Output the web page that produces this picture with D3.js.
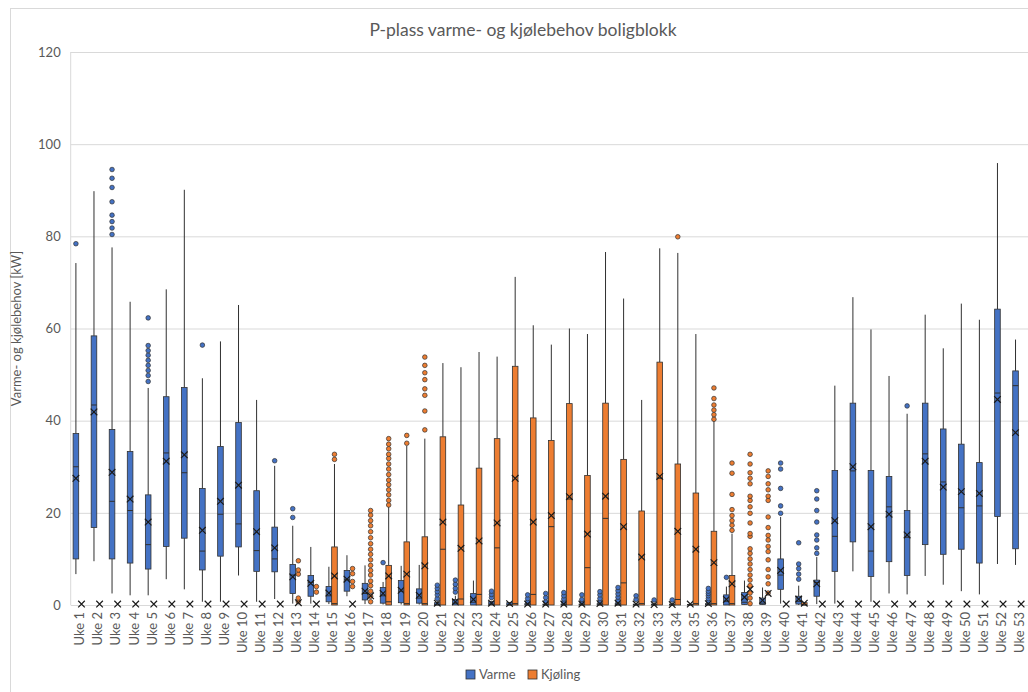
<!DOCTYPE html>
<html>
<head>
<meta charset="utf-8">
<script src="https://cdn.jsdelivr.net/npm/d3@7"></script>
<style>
  html, body { margin: 0; padding: 0; background: #fff; }
  svg { display: block; font-family: Lato, "Open Sans", sans-serif; }
</style>
</head>
<body>
<svg id="chart" width="1028" height="692"></svg>
<script>
// Weekly distribution of heating (Varme) and cooling (Kjøling) demand, kW
const categories = ["Uke 1","Uke 2","Uke 3","Uke 4","Uke 5","Uke 6","Uke 7","Uke 8","Uke 9","Uke 10",
  "Uke 11","Uke 12","Uke 13","Uke 14","Uke 15","Uke 16","Uke 17","Uke 18","Uke 19","Uke 20",
  "Uke 21","Uke 22","Uke 23","Uke 24","Uke 25","Uke 26","Uke 27","Uke 28","Uke 29","Uke 30",
  "Uke 31","Uke 32","Uke 33","Uke 34","Uke 35","Uke 36","Uke 37","Uke 38","Uke 39","Uke 40",
  "Uke 41","Uke 42","Uke 43","Uke 44","Uke 45","Uke 46","Uke 47","Uke 48","Uke 49","Uke 50",
  "Uke 51","Uke 52","Uke 53"];
const seriesNames = ["Varme", "Kjøling"];
const yTicks = [0, 20, 40, 60, 80, 100, 120];

// Varme
const varmeMin = [6.7,9.5,2.5,2.1,2.1,5.6,3.4,0.7,0.7,6.4, 0.7,1.3,0.3,0.3,0.2,1.9,0.2,0.1,0.1,0.1,
  0,0,0,0,0,0,0,0,0,0, 0,0,0,0,0,0,0,0,0,0.3, 0,0.2,0.3,7.3,0.7,2.5,2.3,6.3,4.4,3.0, 2.3,8.9,8.7];
const varmeQ1 = [10.0,16.8,10.0,9.1,7.8,12.7,14.5,7.6,10.6,12.6, 7.3,7.2,2.5,1.9,0.7,3.0,1.1,0.4,0.5,0.4,
  0,0,0,0,0,0,0,0,0,0, 0,0,0,0,0,0,0,0.1,0.1,3.4, 0.2,1.9,7.3,13.7,6.2,9.4,6.4,13.1,11.0,12.1, 9.1,19.2,12.2];
const varmeMedian = [30.0,43.4,22.5,20.5,13.1,33.0,28.7,11.7,19.7,17.6, 11.8,10.0,6.5,4.9,2.0,5.5,2.5,2.0,3.0,1.5,
  0,0.4,0.6,0.2,0,0,0,0,0,0, 0,0,0,0,0,0,0.8,0.6,0.4,6.5, 0.8,4.9,14.9,29.1,11.7,21.3,14.7,32.8,26.7,21.1, 21.5,46.0,47.6];
const varmeQ3 = [37.2,58.4,38.1,33.3,23.9,45.2,47.2,25.3,34.4,39.6, 24.8,16.9,8.8,6.4,4.0,7.5,4.7,3.8,5.3,3.5,
  0.5,1.2,2.5,0.8,0.5,0.3,0.2,0.2,0.2,0.3, 0.3,0.2,0.2,0.2,0.1,0.3,2.2,2.7,1.5,10.0, 1.9,5.4,29.2,43.8,29.2,27.9,20.5,43.8,38.2,34.9, 30.9,64.2,50.8];
const varmeMax = [74.2,89.8,77.6,65.8,47.1,68.5,90.1,49.2,57.2,65.1, 44.5,30.2,17.2,12.6,8.3,10.8,8.6,5.0,8.5,8.7,
  1.0,2.0,5.3,0.8,0.6,0.3,0.3,0.3,0.3,0.4, 0.3,0.5,0.5,0.5,0.2,0.4,4.0,5.3,3.8,19.1, 4.2,10.4,47.6,66.8,59.8,49.7,41.5,63.0,55.7,65.4, 61.9,95.9,57.6];
const varmeMean = [27.5,41.9,28.8,23.0,18.0,31.2,32.6,16.2,22.5,26.0, 15.9,12.4,6.1,4.7,2.6,5.6,3.0,2.5,3.2,2.1,
  0.4,0.7,1.2,0.4,0.3,0.2,0.2,0.2,0.2,0.3, 0.4,0.2,0.1,0.1,0.2,0.3,1.2,1.7,1.0,7.5, 1.3,4.6,18.3,30.0,17.0,19.7,15.2,31.2,25.6,24.6, 24.2,44.6,37.4];
const varmeOutliers = [
  [78.4], [], [80.4,81.8,83.2,84.6,87.5,90.6,92.6,94.5], [], [48.5,49.8,50.9,52.0,53.1,54.2,55.2,56.3,62.3],
  [], [], [56.4], [], [],
  [], [31.3], [19.0,20.9], [], [],
  [], [], [9.2], [], [],
  [1.4,2.2,2.9,3.6,4.3], [2.8,3.6,4.5,5.4], [], [1.6,2.3,3.0], [],
  [0.7,1.4,2.2], [0.7,1.6,2.5], [0.6,1.3,2.0,2.7], [0.6,1.2,2.2], [0.7,1.4,2.2,2.9],
  [0.6,1.0,1.7,2.4,3.1,3.8], [1.2,2.0], [1.1], [1.1], [],
  [0.8,1.4,2.0,2.5,3.0,3.6], [6.0], [], [], [19.9,21.5,25.3,29.5,30.8],
  [5.6,6.7,7.9,8.9,13.5], [11.2,12.4,14.1,15.2,18.0,20.5,23.0,24.8], [], [], [],
  [], [43.2], [], [], [],
  [], [], []
];

// Kjøling
const kjolingMin = [0,0,0,0,0,0,0,0,0,0, 0,0,0,0,0,0,0,0,0,0, 0,0,0,0,0,0,0,0,0,0,
  0,0,0,0,0,0,0,0,0,0, 0,0,0,0,0,0,0,0,0,0, 0,0,0];
const kjolingQ1 = [0,0,0,0,0,0,0,0,0,0, 0,0,0,0,0,0,0,0,0,0, 0,0,0,0,0,0,0,0,0,0,
  0,0,0,0,0,0,0,0,0,0, 0,0,0,0,0,0,0,0,0,0, 0,0,0];
const kjolingMedian = [0,0,0,0,0,0,0,0,0,0, 0,0,0,0,0.3,0,0,0.7,0.3,0.3,
  12.1,1.3,2.3,12.4,0.3,2.3,17.0,23.0,8.1,18.8, 4.8,0.3,27.5,1.2,0.3,0.3,0.3,0,0,0,
  0,0,0,0,0,0,0,0,0,0, 0,0,0];
const kjolingQ3 = [0,0,0,0,0,0,0,0,0,0, 0,0,0,0,12.6,0,0,8.6,13.7,14.8,
  36.5,21.7,29.7,36.1,51.8,40.6,35.7,43.7,28.1,43.8, 31.6,20.4,52.7,30.6,24.3,16.0,6.4,0,0,0,
  0.5,0,0,0,0,0,0,0,0,0, 0,0,0];
const kjolingMax = [0,0,0,0,0,0,0,0,0,0, 0,0,0,0,30.6,0,0,21.3,34.5,36.1,
  52.5,51.6,54.9,53.9,71.2,60.7,56.5,60.0,58.8,76.6, 66.5,44.5,77.4,76.4,58.8,40.0,15.5,0,0,0,
  0.5,0,0,0,0,0,0,0,0,0, 0,0,0];
const kjolingMean = [0.2,0.2,0.2,0.2,0.2,0.2,0.2,0.2,0.2,0.2, 0.2,0.2,0.5,0.2,6.3,0.2,2.0,6.3,6.7,8.5,
  18.0,12.3,13.9,17.8,27.5,18.0,19.4,23.5,15.4,23.6, 17.0,10.4,27.9,16.0,12.1,9.2,4.6,3.4,2.5,0.2,
  0.4,0.2,0.2,0.2,0.2,0.2,0.2,0.2,0.2,0.2, 0.2,0.2,0.2];
const kjolingOutliers = [
  [], [], [], [], [], [], [], [], [], [],
  [], [], [0.7,1.5,6.7,7.6,9.6], [2.8,4.0], [31.6,32.7],
  [4.0,5.1,6.8,7.9],
  [0.7,1.9,3.0,4.2,5.2,6.5,7.5,8.6,9.8,11.0,12.1,13.3,14.6,15.9,17.2,18.3,19.5,20.5],
  [21.7,22.7,23.9,25.0,26.1,27.1,28.3,29.5,30.6,31.8,32.7,33.9,34.9,36.1],
  [35.1,36.8],
  [38.0,42.1,45.5,46.9,48.9,50.4,52.0,53.8],
  [], [], [], [], [], [], [], [], [], [],
  [], [], [], [79.9], [],
  [40.3,41.3,42.3,43.4,44.8,47.1],
  [16.2,17.3,18.3,19.4,20.7,24.0,28.6,30.8],
  [0.3,1.5,2.6,4.2,5.4,6.5,7.7,8.9,10.0,11.2,12.2,14.9,15.5,17.8,19.9,21.3,22.7,23.6,26.3,27.5,28.7,30.6,32.7],
  [2.6,4.6,6.1,7.7,9.8,11.6,12.7,14.1,15.1,16.8,19.1,22.7,23.6,25.0,26.3,27.9,29.1],
  [],
  [], [], [], [], [], [], [], [], [], [],
  [], [], []
];

const colors = { "Varme": "#4472C4", "Kjøling": "#ED7D31" };
const textColor = "#595959";
const gridColor = "#d9d9d9";
const edgeColor = "#303030";

function buildSeries(name, mins, q1s, meds, q3s, maxs, means, outs) {
  return categories.map((c, i) => ({
    series: name, category: c,
    min: mins[i], q1: q1s[i], median: meds[i], q3: q3s[i], max: maxs[i],
    mean: means[i], outliers: outs[i]
  }));
}
const stats = [
  ...buildSeries("Varme", varmeMin, varmeQ1, varmeMedian, varmeQ3, varmeMax, varmeMean, varmeOutliers),
  ...buildSeries("Kjøling", kjolingMin, kjolingQ1, kjolingMedian, kjolingQ3, kjolingMax, kjolingMean, kjolingOutliers)
];

const svg = d3.select("#chart");
const plot = { left: 70.7, right: 1028.4, top: 52, bottom: 605 };

// chart frame
svg.append("rect")
  .attr("x", 10.5).attr("y", 8.5).attr("width", 1040).attr("height", 700)
  .attr("fill", "#fff").attr("stroke", gridColor).attr("stroke-width", 1);

const x = d3.scaleBand().domain(categories).range([plot.left, plot.right]).padding(0);
const sub = d3.scaleBand().domain(seriesNames).range([2.4, 13.6]).padding(0);
const y = d3.scaleLinear().domain([0, 120]).range([plot.bottom, plot.top]);

// title
svg.append("text")
  .attr("x", 523).attr("y", 36)
  .attr("text-anchor", "middle")
  .attr("fill", textColor)
  .attr("font-size", 17.5)
  .text("P-plass varme- og kjølebehov boligblokk");

// y axis with gridlines
const yAxis = svg.append("g")
  .attr("transform", `translate(${plot.left},0)`)
  .call(d3.axisLeft(y).tickValues(yTicks).tickSize(-(plot.right - plot.left)).tickPadding(10));
yAxis.select(".domain").remove();
yAxis.selectAll(".tick line").attr("stroke", gridColor).attr("stroke-width", 1);
yAxis.selectAll(".tick text").attr("fill", textColor).attr("font-size", 13)
  .attr("font-family", "Lato, sans-serif");

// left edge of plot area
svg.append("line")
  .attr("x1", plot.left).attr("x2", plot.left)
  .attr("y1", plot.top).attr("y2", plot.bottom)
  .attr("stroke", gridColor);

// y axis title
svg.append("text")
  .attr("transform", `translate(21,${(plot.top + plot.bottom) / 2}) rotate(-90)`)
  .attr("text-anchor", "middle")
  .attr("fill", textColor)
  .attr("font-size", 13)
  .text("Varme- og kjølebehov [kW]");

// x axis
const xAxis = svg.append("g")
  .attr("transform", `translate(0,${plot.bottom})`)
  .call(d3.axisBottom(x).tickSize(0).tickPadding(0));
xAxis.select(".domain").attr("stroke", gridColor);
xAxis.selectAll(".tick text")
  .attr("fill", textColor)
  .attr("font-size", 13)
  .attr("font-family", "Lato, sans-serif")
  .attr("text-anchor", "end")
  .attr("transform", "rotate(-90)")
  .attr("x", -7).attr("y", 0).attr("dy", "0.35em");

// boxes
const boxW = sub.bandwidth();
const groups = svg.append("g").selectAll("g.box")
  .data(stats)
  .join("g")
  .attr("class", "box")
  .attr("transform", d => `translate(${x(d.category) + sub(d.series)},0)`);

// whiskers
groups.filter(d => d.max > d.q3).append("line")
  .attr("x1", boxW / 2).attr("x2", boxW / 2)
  .attr("y1", d => y(d.q3)).attr("y2", d => y(d.max))
  .attr("stroke", edgeColor).attr("stroke-width", 1);
groups.filter(d => d.min < d.q1).append("line")
  .attr("x1", boxW / 2).attr("x2", boxW / 2)
  .attr("y1", d => y(d.q1)).attr("y2", d => y(d.min))
  .attr("stroke", edgeColor).attr("stroke-width", 1);

// interquartile box
groups.filter(d => d.q3 - d.q1 > 0.05).append("rect")
  .attr("x", 0).attr("width", boxW)
  .attr("y", d => y(d.q3)).attr("height", d => y(d.q1) - y(d.q3))
  .attr("fill", d => colors[d.series])
  .attr("stroke", edgeColor).attr("stroke-width", 0.8);

// median
groups.filter(d => d.q3 - d.q1 > 0.05).append("line")
  .attr("x1", 0).attr("x2", boxW)
  .attr("y1", d => y(d.median)).attr("y2", d => y(d.median))
  .attr("stroke", edgeColor).attr("stroke-width", 1);

// outliers
groups.selectAll("circle")
  .data(d => d.outliers.map(v => ({ v, series: d.series })))
  .join("circle")
  .attr("cx", boxW / 2).attr("cy", d => y(d.v)).attr("r", 2.3)
  .attr("fill", d => colors[d.series])
  .attr("stroke", edgeColor).attr("stroke-width", 0.7);

// mean markers
const m = 3.3;
groups.append("path")
  .attr("d", d => {
    const cx = boxW / 2, cy = y(d.mean);
    return `M${cx - m},${cy - m}L${cx + m},${cy + m}M${cx - m},${cy + m}L${cx + m},${cy - m}`;
  })
  .attr("stroke", "#1a1a1a").attr("stroke-width", 1.2).attr("fill", "none");

// legend
const legend = svg.append("g").attr("transform", "translate(466,670)");
const items = legend.selectAll("g").data(seriesNames).join("g")
  .attr("transform", (d, i) => `translate(${i === 0 ? 0 : 62},0)`);
items.append("rect")
  .attr("width", 9).attr("height", 9)
  .attr("fill", d => colors[d]).attr("stroke", edgeColor).attr("stroke-width", 0.8);
items.append("text")
  .attr("x", 13).attr("y", 9)
  .attr("fill", textColor).attr("font-size", 13)
  .text(d => d);
</script>
</body>
</html>
